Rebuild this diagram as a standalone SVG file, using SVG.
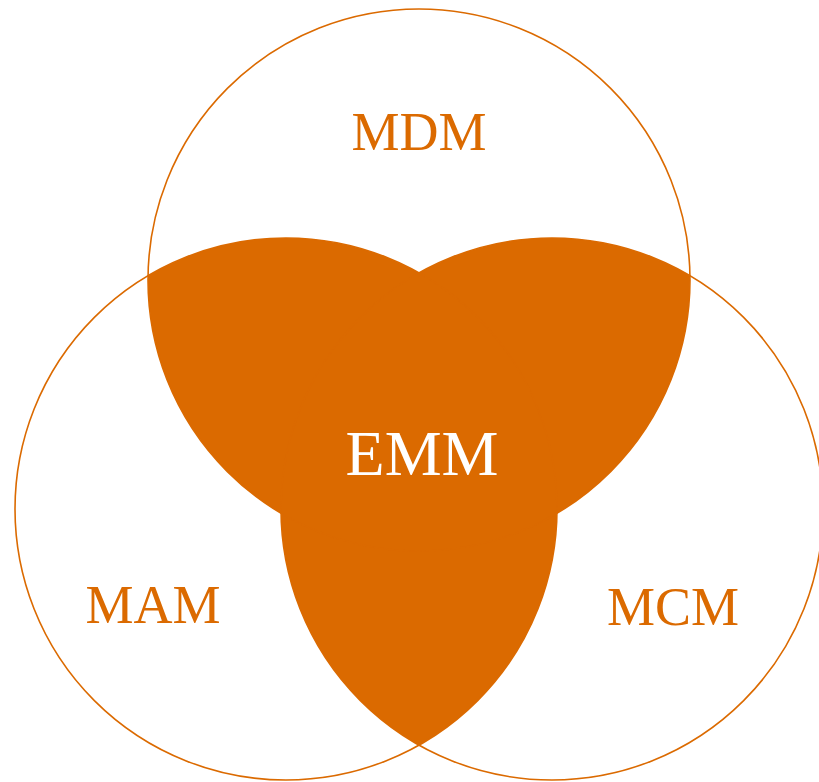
<svg xmlns="http://www.w3.org/2000/svg" width="819" height="782" viewBox="0 0 819 782">
<style>
.c{fill:none;stroke:#DB6A00;stroke-width:1.6}
.f{fill:#DB6A00}
.t{font-family:"Liberation Serif","DejaVu Serif",serif;text-anchor:middle;fill:#DB6A00}
</style>
<defs>
<clipPath id="cA"><circle cx="419" cy="280" r="271"/></clipPath>
<clipPath id="cB"><circle cx="286" cy="509" r="271"/></clipPath>
<clipPath id="cC"><circle cx="552" cy="509" r="271"/></clipPath>
</defs>
<rect width="819" height="782" fill="#fff"/>
<g id="emm-region">
<circle class="f" cx="419" cy="280" r="271" clip-path="url(#cB)"/>
<circle class="f" cx="419" cy="280" r="271" clip-path="url(#cC)"/>
<circle class="f" cx="286" cy="509" r="271" clip-path="url(#cC)"/>
</g>
<g id="mdm"><circle class="c" cx="419" cy="280" r="271"/><text class="t" x="419" y="150" font-size="54">MDM</text></g>
<g id="mam"><circle class="c" cx="286" cy="509" r="271"/><text class="t" x="153" y="623" font-size="54">MAM</text></g>
<g id="mcm"><circle class="c" cx="552" cy="509" r="271"/><text class="t" x="673" y="625" font-size="54">MCM</text></g>
<g id="emm"><text class="t" x="422" y="475" font-size="64" style="fill:#fff">EMM</text></g>
</svg>
